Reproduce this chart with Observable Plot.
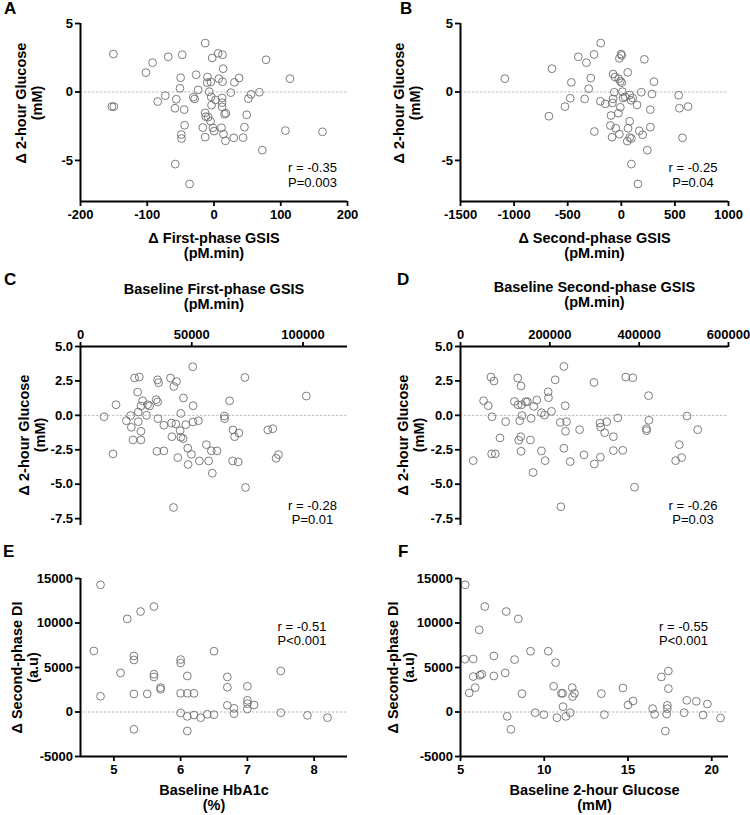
<!DOCTYPE html>
<html><head><meta charset="utf-8">
<script src="https://cdn.jsdelivr.net/npm/d3@7"></script>
<script src="https://cdn.jsdelivr.net/npm/@observablehq/plot@0.6"></script>
<style>
body{margin:0;background:#fff;}
#wrap{position:relative;width:750px;height:815px;font-family:"Liberation Sans",Arial,sans-serif;overflow:hidden;}
.panel{position:absolute;}
.lab{position:absolute;font-weight:bold;font-size:17px;line-height:17px;color:#000;}
</style></head><body><div id="wrap"></div>
<script>
// Panel A: Δ First-phase GSIS vs Δ 2-hour Glucose
const aX = [-150.7,-153,-150,-92,-102,-68.6,-47.6,-13.2,6.2,12.7,-2.7,78,13.7,-26.7,-50,-9.7,-10.2,-4.7,7.2,12.7,30.6,37.6,113.8,-51,-23.7,-7.2,25.2,68,55.5,51.5,-84.4,-73,-56.5,-31,-29,-4.2,2.2,12.2,12.2,-3.7,12.2,-58.5,-44.6,15.7,17.7,-13.2,-12.2,-8.7,49,-5.2,-44,-16.7,-1.7,11.2,45.6,0.2,14.2,-49,-48.6,-13.2,29.6,43.6,17.2,107,162.6,72.4,-58,-36.6];
const aY = [2.77,-1.07,-1.07,2.14,1.41,2.57,2.72,3.57,2.82,2.72,2.48,2.35,1.70,1.26,1.04,1.09,0.68,0.73,0.97,0.75,0.70,1.02,0.97,0.27,0.15,0.02,-0.05,-0.02,-0.17,-0.49,-0.70,-0.27,-0.53,-0.39,-0.51,-0.36,-0.58,-0.44,-0.78,-0.97,-1.09,-1.19,-1.29,-1.63,-1.55,-1.53,-1.80,-1.84,-1.67,-2.14,-2.43,-2.60,-2.62,-2.62,-2.57,-2.86,-3.08,-3.11,-3.40,-3.30,-3.35,-3.33,-3.57,-2.82,-2.91,-4.25,-5.27,-6.72];
// Panel B: Δ Second-phase GSIS vs Δ 2-hour Glucose
const bX = [-1086,-647,-675,-401,-326,-254,-192,-466,-476,-525,-342,-304,-285,-195,-149,-251,-77,-58,-24,-9,4,-65,-77,-83,-96,-27,-9,-18,-2,4,60,10,16,35,78,106,91,147,187,215,305,286,271,271,-102,-52,-18,-86,78,63,78,56,94,168,199,243,94,156,535,542,623,571];
const bY = [0.97,1.70,-1.77,2.57,2.14,2.74,3.57,0.70,-0.46,-1.07,-0.51,0.24,1.02,-0.68,-0.87,-2.89,1.31,1.09,0.97,0.78,0.68,-0.02,-0.51,-0.80,-1.72,-1.55,-1.12,2.45,2.77,2.67,1.43,0.02,-0.44,-0.36,-0.22,-0.44,-0.61,-0.95,-0.02,2.38,0.75,-0.15,-1.29,-2.57,-2.45,-2.65,-3.08,-3.30,-2.14,-2.65,-3.33,-3.59,-3.40,-2.84,-3.13,-4.25,-5.27,-6.72,-0.24,-1.19,-1.07,-3.35];
// Panel C: Baseline First-phase GSIS vs Δ 2-hour Glucose
const cX = [10600,15970,14630,20600,22540,22840,23580,24330,26420,25670,25970,25970,27160,27160,27160,27910,29700,30150,31050,34630,35080,34030,34630,34780,34330,37460,37460,40450,43130,41940,40900,42840,41050,44780,45080,46120,45080,46270,47310,43730,41790,50450,50600,50600,52990,48210,49850,48360,53430,56570,57610,58810,61340,59250,64630,64780,67020,68510,69250,71190,68360,70900,73880,74180,84180,86420,88960,87910,101490];
const cY = [-0.10,0.77,-2.80,-0.39,-0.02,-0.87,-1.79,2.71,2.78,1.69,0.24,-0.46,-1.16,-1.79,0.68,1.06,0.00,0.77,0.68,2.58,2.37,1.14,0.97,-0.24,-2.61,-0.72,-2.58,2.71,2.46,2.10,-0.56,-0.63,-1.55,-1.11,-1.59,-1.69,0.14,1.26,-0.68,-3.07,-6.69,3.53,0.70,-0.48,-0.39,-2.39,-2.83,-3.57,-3.31,-2.13,-3.31,-2.58,-2.58,-4.20,-0.05,-0.24,1.06,-1.06,-1.55,-1.28,-3.31,-3.38,2.75,-5.24,-1.06,-0.97,-2.85,-3.12,1.40];
// Panel D: Baseline Second-phase GSIS vs Δ 2-hour Glucose
const dX = [28460,51680,62170,68160,74900,70410,69660,77900,88380,101120,120590,128080,128830,135570,137070,137820,132570,130330,134820,135570,146060,149800,158040,156540,164030,170770,162530,181260,181260,188000,189500,196240,196990,203730,211970,223200,224700,231440,231440,234440,237430,235190,245670,266650,276380,298850,299600,312340,313830,313080,322820,327320,342300,342300,352030,363270,370010,385740,389480,416450,416450,420940,421690,481610,489850,495090,507080,531040];
const dY = [-3.29,1.06,0.70,2.78,2.49,-0.10,-2.80,-2.80,-1.64,-0.46,1.01,2.71,0.77,2.13,0.77,-0.02,-0.39,-1.81,-1.55,-2.61,0.99,0.99,-0.22,-1.79,0.65,1.11,-4.15,-2.58,0.19,0.02,-3.29,1.71,1.28,0.29,2.58,-0.51,-6.64,3.55,-2.39,0.70,-0.46,-1.16,-3.36,-1.04,-2.87,2.39,-3.53,-0.56,-0.85,-3.04,-1.26,-0.46,-1.55,-2.56,-0.19,-2.54,2.78,2.73,-5.22,-0.97,-1.11,1.43,-0.36,-3.29,-2.13,-3.07,-0.05,-1.04];
// Panel E: Baseline HbA1c vs Δ Second-phase DI
const eX = [4.8,4.7,4.8,5.1,5.2,5.4,5.6,5.3,5.3,5.3,5.3,5.5,5.6,5.6,5.7,5.7,6.0,6.0,6.0,6.0,6.1,6.1,6.2,6.1,6.1,6.2,6.3,6.4,6.5,6.5,6.7,6.7,6.7,6.8,6.8,7.0,7.0,7.0,7.0,7.1,7.5,7.5,7.9,8.2];
const eY = [14290,6860,1760,4390,10460,11290,11850,6300,5850,2030,-1950,2030,4240,3940,2740,2550,5890,5510,2100,-110,4050,2100,2100,-490,-2140,-340,-640,-260,-300,6830,3940,2780,750,410,-190,2890,1310,940,340,790,4610,-80,-380,-640];
// Panel F: Baseline 2-hour Glucose vs Δ Second-phase DI
const fX = [5.28,5.26,5.52,5.76,5.76,5.88,6.12,6.16,6.27,6.45,6.99,6.99,7.67,7.73,7.79,8.01,8.23,8.45,8.67,9.18,9.46,9.98,10.24,10.68,10.56,10.76,11.02,11.10,11.12,11.29,11.55,11.67,11.69,11.81,13.41,13.59,14.70,15.0,15.30,16.47,16.59,16.99,17.41,17.41,17.35,17.35,17.31,17.23,18.35,18.51,19.08,19.48,19.74,20.52];
const fY = [14290,5930,2140,3980,5960,2740,9230,4130,4240,11850,6300,4050,4390,11290,-490,-1950,5890,10460,2060,6830,-80,-300,6830,5550,2890,-640,2100,2100,600,-490,-80,2740,1730,2100,2060,-300,2700,790,1240,380,-260,3940,4610,2630,750,380,-230,-2140,-80,1310,1200,-340,900,-680];

// Tick values and texts
const ticksA_X = [-200,-100,0,100,200];
const ticksB_X = [-1500,-1000,-500,0,500,1000];
const ticksAB_Y = [-5,0,5];
const ticksC_X = [0,50000,100000];
const ticksD_X = [0,200000,400000,600000];
const ticksCD_Y = [-7.5,-5,-2.5,0,2.5,5];
const ticksE_X = [5,6,7,8];
const ticksF_X = [5,10,15,20];
const ticksEF_Y = [-5000,0,5000,10000,15000];

const titles = {
  A: ["Δ First-phase GSIS\n(pM.min)", "Δ 2-hour Glucose\n(mM)", "r = -0.35\nP=0.003"],
  B: ["Δ Second-phase GSIS\n(pM.min)", "Δ 2-hour Glucose\n(mM)", "r = -0.25\nP=0.04"],
  C: ["Baseline First-phase GSIS\n(pM.min)", "Δ 2-hour Glucose\n(mM)", "r = -0.28\nP=0.01"],
  D: ["Baseline Second-phase GSIS\n(pM.min)", "Δ 2-hour Glucose\n(mM)", "r = -0.26\nP=0.03"],
  E: ["Baseline HbA1c\n(%)", "Δ Second-phase DI\n(a.u)", "r = -0.51\nP<0.001"],
  F: ["Baseline 2-hour Glucose\n(mM)", "Δ Second-phase DI\n(a.u)", "r = -0.55\nP<0.001"]
};

const FONT = '"Liberation Sans", Arial, sans-serif';
const intFmt = d => String(d);
const oneFmt = d => d.toFixed(1);

function panel(o) {
  const data = o.x.map((v, i) => ({x: v, y: o.y[i]}));
  const [xt, yt, st] = titles[o.key];
  const top = !!o.xTop;
  const svg = Plot.plot({
    width: o.w, height: o.h,
    marginLeft: o.mL, marginRight: o.mR, marginTop: o.mT, marginBottom: o.mB,
    x: {domain: o.xDomain, axis: null},
    y: {domain: o.yDomain, axis: null},
    style: {fontFamily: FONT, fontWeight: "bold", fontSize: "13px", color: "#000", background: "transparent", overflow: "visible"},
    marks: [
      Plot.ruleY([0], {stroke: "#b8b8b8", strokeWidth: 0.9, strokeDasharray: "2.5,1.5"}),
      Plot.dot(data, {x: "x", y: "y", r: 3.9, stroke: "#6e6e6e", strokeWidth: 0.9, fill: "none"}),
      Plot.ruleX([o.xDomain[0]], {stroke: "#000", strokeWidth: 2}),
      Plot.ruleY([top ? o.yDomain[1] : o.yDomain[0]], {stroke: "#000", strokeWidth: 2}),
      Plot.axisX(o.xTicks, {anchor: top ? "top" : "bottom", tickSize: 5, tickPadding: 3, strokeWidth: 1.8,
        tickFormat: intFmt, fontSize: 13, fontWeight: "bold", label: null}),
      Plot.axisY(o.yTicks, {anchor: "left", tickSize: 5, tickPadding: 2.5, strokeWidth: 1.8,
        tickFormat: o.yFmt, fontSize: 13, fontWeight: "bold", label: null}),
      Plot.text([xt], {text: d => d, frameAnchor: top ? "top" : "bottom", dy: o.xTitleDy,
        lineAnchor: "middle", textAnchor: "middle",
        fontSize: 14.5, fontWeight: "bold", lineHeight: 1.03}),
      Plot.text([yt], {text: d => d, frameAnchor: "left", rotate: -90, dx: o.yTitleDx, dy: o.yTitleDy,
        lineAnchor: "middle", textAnchor: "middle",
        fontSize: 14.5, fontWeight: "bold", lineHeight: 1.12}),
      Plot.text([st], {text: d => d, frameAnchor: o.statAnchor, dx: o.statDx, dy: o.statDy,
        lineAnchor: "middle", textAnchor: "middle",
        fontSize: 13, fontWeight: "normal", lineHeight: 1.12})
    ]
  });
  const div = document.createElement("div");
  div.className = "panel";
  div.style.left = o.left + "px";
  div.style.top = o.top + "px";
  div.appendChild(svg);
  const lab = document.createElement("div");
  lab.className = "lab";
  lab.textContent = o.key;
  lab.style.left = o.labX + "px";
  lab.style.top = o.labY + "px";
  const wrap = document.getElementById("wrap");
  wrap.appendChild(div);
  wrap.appendChild(lab);
}

panel({key: "A", x: aX, y: aY, left: 0, top: 0, w: 375, h: 270, mL: 80, mR: 28, mT: 23, mB: 69,
  xDomain: [-200, 200], yDomain: [-8, 5], xTicks: ticksA_X, yTicks: ticksAB_Y, yFmt: intFmt,
  xTitleDy: 44, yTitleDx: -51.5, yTitleDy: -9.5, statAnchor: "bottom-right", statDx: -35, statDy: -26.5,
  labX: 4, labY: 0});
panel({key: "B", x: bX, y: bY, left: 375, top: 0, w: 375, h: 270, mL: 85, mR: 22, mT: 23, mB: 69,
  xDomain: [-1500, 1000], yDomain: [-8, 5], xTicks: ticksB_X, yTicks: ticksAB_Y, yFmt: intFmt,
  xTitleDy: 44, yTitleDx: -54, yTitleDy: -9.5, statAnchor: "bottom-right", statDx: -35.5, statDy: -26.5,
  labX: 400, labY: 0});
panel({key: "C", x: cX, y: cY, left: 0, top: 270, w: 375, h: 270, mL: 80, mR: 28, mT: 76, mB: 15,
  xDomain: [0, 120000], yDomain: [-8, 5], xTicks: ticksC_X, yTicks: ticksCD_Y, yFmt: oneFmt, xTop: true,
  xTitleDy: -50, yTitleDx: -48.5, yTitleDy: -1, statAnchor: "bottom-right", statDx: -35, statDy: -13,
  labX: 4, labY: 271});
panel({key: "D", x: dX, y: dY, left: 375, top: 270, w: 375, h: 270, mL: 85, mR: 22, mT: 76, mB: 15,
  xDomain: [0, 600000], yDomain: [-8, 5], xTicks: ticksD_X, yTicks: ticksCD_Y, yFmt: oneFmt, xTop: true,
  xTitleDy: -52, yTitleDx: -50, yTitleDy: -1, statAnchor: "bottom-right", statDx: -35.5, statDy: -13,
  labX: 397, labY: 271});
panel({key: "E", x: eX, y: eY, left: 0, top: 540, w: 375, h: 275, mL: 80, mR: 28, mT: 38, mB: 59,
  xDomain: [4.5, 8.5], yDomain: [-5000, 15000], xTicks: ticksE_X, yTicks: ticksEF_Y, yFmt: intFmt,
  xTitleDy: 41.5, yTitleDx: -56, yTitleDy: 0, statAnchor: "top-right", statDx: -45.5, statDy: 55,
  labX: 3, labY: 543});
panel({key: "F", x: fX, y: fY, left: 375, top: 540, w: 375, h: 275, mL: 85, mR: 22, mT: 38, mB: 59,
  xDomain: [5, 21], yDomain: [-5000, 15000], xTicks: ticksF_X, yTicks: ticksEF_Y, yFmt: intFmt,
  xTitleDy: 41.5, yTitleDx: -60, yTitleDy: 0, statAnchor: "top-right", statDx: -45, statDy: 55,
  labX: 398, labY: 543});
</script>
</body></html>
